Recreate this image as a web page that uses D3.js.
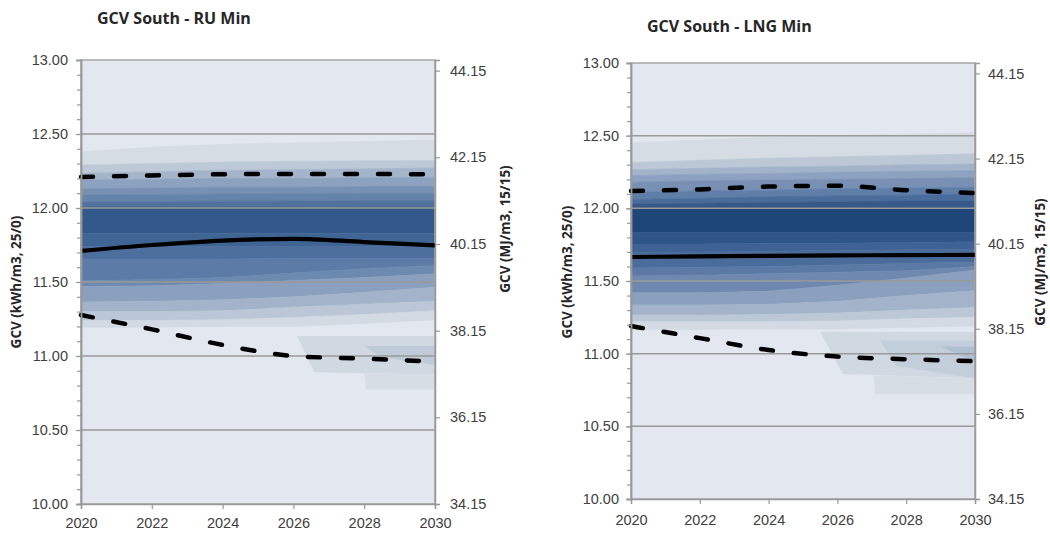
<!DOCTYPE html>
<html>
<head>
<meta charset="utf-8">
<script src="https://cdn.jsdelivr.net/npm/d3@7"></script>
<style>
  body { margin: 0; background: #fff; }
  svg { font-family: "Open Sans", sans-serif; }
  .tick text { fill: #404040; font-size: 14.5px; }
  .title { font-weight: bold; font-size: 16px; fill: #262626; }
  .ytitle { font-weight: bold; font-size: 13.5px; fill: #262626; }
</style>
</head>
<body>
<svg id="chart" width="1050" height="536"></svg>
<script>
// ---- data ----
const years = [2020, 2022, 2024, 2026, 2028, 2030];
const xTicks = [2020, 2022, 2024, 2026, 2028, 2030];
const leftTicks = [10.0, 10.5, 11.0, 11.5, 12.0, 12.5, 13.0];
const rightTicks = [34.15, 36.15, 38.15, 40.15, 42.15, 44.15];
const gridValues = [10.5, 11.0, 11.5, 12.0, 12.5];
const panelTitles = ["GCV South - RU Min", "GCV South - LNG Min"];
const leftTitle = "GCV (kWh/m3, 25/0)";
const rightTitle = "GCV (MJ/m3, 15/15)";
const mjFactor = 3.415; // kWh/m3 25/0 -> MJ/m3 15/15

// fan boundaries, top to bottom, one value per year
const ruBands = [
  [12.38, 12.41, 12.43, 12.44, 12.45, 12.46],
  [12.29, 12.30, 12.31, 12.315, 12.32, 12.32],
  [12.235, 12.245, 12.255, 12.26, 12.265, 12.27],
  [12.19, 12.195, 12.20, 12.20, 12.205, 12.205],
  [12.13, 12.135, 12.14, 12.14, 12.145, 12.145],
  [12.09, 12.092, 12.095, 12.097, 12.10, 12.10],
  [12.04, 12.042, 12.045, 12.047, 12.05, 12.05],
  [12.005, 12.005, 12.005, 12.005, 12.005, 12.005],
  [11.83, 11.83, 11.83, 11.83, 11.83, 11.83],
  [11.74, 11.74, 11.74, 11.74, 11.74, 11.74],
  [11.65, 11.65, 11.655, 11.66, 11.66, 11.66],
  [11.51, 11.515, 11.53, 11.56, 11.59, 11.61],
  [11.47, 11.475, 11.49, 11.51, 11.53, 11.555],
  [11.365, 11.37, 11.38, 11.40, 11.43, 11.465],
  [11.30, 11.30, 11.305, 11.33, 11.35, 11.37],
  [11.24, 11.24, 11.245, 11.26, 11.28, 11.305],
  [11.195, 11.195, 11.20, 11.20, 11.22, 11.245]
];
const ruMedian = [11.71, 11.75, 11.78, 11.792, 11.77, 11.748];
const ruMax = [12.21, 12.22, 12.228, 12.23, 12.23, 12.227];
const ruMin = [11.277, 11.18, 11.075, 11.0, 10.982, 10.962];
const ruTails = [
  { years: [2026.1, 2026.6, 2030], hi: [11.135, 11.135, 11.135], lo: [11.135, 10.89, 10.875] },
  { years: [2028.0, 2028.05, 2030], hi: [10.88, 10.88, 10.875], lo: [10.88, 10.775, 10.775] },
  { years: [2028.0, 2028.5, 2030], hi: [11.068, 11.068, 11.068], lo: [11.068, 10.99, 10.94] }
];

const lngBands = [
  [12.45, 12.47, 12.49, 12.50, 12.51, 12.52],
  [12.315, 12.33, 12.345, 12.355, 12.365, 12.375],
  [12.265, 12.275, 12.285, 12.29, 12.30, 12.305],
  [12.225, 12.235, 12.24, 12.25, 12.255, 12.26],
  [12.18, 12.19, 12.195, 12.20, 12.205, 12.21],
  [12.11, 12.12, 12.125, 12.135, 12.14, 12.145],
  [12.06, 12.07, 12.08, 12.085, 12.09, 12.10],
  [12.03, 12.035, 12.04, 12.045, 12.05, 12.05],
  [12.002, 12.002, 12.002, 12.002, 12.002, 12.002],
  [11.835, 11.835, 11.835, 11.835, 11.835, 11.835],
  [11.755, 11.755, 11.76, 11.76, 11.765, 11.77],
  [11.70, 11.70, 11.705, 11.71, 11.715, 11.72],
  [11.59, 11.595, 11.60, 11.61, 11.62, 11.63],
  [11.535, 11.54, 11.55, 11.56, 11.57, 11.60],
  [11.42, 11.42, 11.43, 11.47, 11.52, 11.575],
  [11.335, 11.335, 11.34, 11.36, 11.40, 11.434],
  [11.265, 11.265, 11.27, 11.28, 11.30, 11.317],
  [11.22, 11.22, 11.22, 11.225, 11.24, 11.25],
  [11.167, 11.167, 11.17, 11.17, 11.18, 11.19]
];
const lngMedian = [11.665, 11.67, 11.673, 11.676, 11.678, 11.68];
const lngMax = [12.12, 12.13, 12.15, 12.155, 12.125, 12.105];
const lngMin = [11.19, 11.107, 11.025, 10.98, 10.962, 10.948];
const lngTails = [
  { years: [2025.5, 2026.16, 2030], hi: [11.15, 11.15, 11.15], lo: [11.15, 10.86, 10.83] },
  { years: [2027.05, 2027.1, 2030], hi: [10.85, 10.85, 10.83], lo: [10.85, 10.72, 10.72] },
  { years: [2027.24, 2027.7, 2030], hi: [11.09, 11.09, 11.09], lo: [11.09, 10.915, 10.83] },
  { years: [2029.0, 2030], hi: [11.05, 11.05], lo: [11.05, 10.945] }
];

// ---- styles ----
const ruColors = ["#D5DCE4", "#BDC9D7", "#A4B5CB", "#8CA2C0", "#7791B4", "#6483AA", "#52729E",
  "#33598A", "#3F6595", "#4D6F9D", "#5C7BA6", "#6C89B0", "#8AA0BE", "#A3B4CA", "#BBC7D6", "#D3DAE3"];
const lngColors = ["#D5DCE4", "#BCC8D6", "#A3B4CA", "#8CA2C0", "#7790B4", "#5F7EA8", "#4A6C9B", "#36598A",
  "#1F4678", "#2E5586", "#3D6293", "#4A6C9B", "#5A7AA5", "#6E88B0", "#8AA0BE", "#A3B4CA", "#BCC8D6", "#D3DAE3"];
const ruTailColors = ["#D0D8E1", "#D6DDE5", "#BFCBD8"];
const lngTailColors = ["#D0D8E1", "#D6DDE5", "#C3CEDB", "#B0C0D3"];

const panels = [
  { title: panelTitles[0], bands: ruBands, colors: ruColors, median: ruMedian, max: ruMax, min: ruMin,
    tails: ruTails, tailColors: ruTailColors,
    left: 81, right: 435, top: 60, bottom: 504,
    titleX: 97, titleY: 24, lTitle: [16, 282], rTitle: [505, 229],
    xPad: 9, lPad: 8, rPad: 10 },
  { title: panelTitles[1], bands: lngBands, colors: lngColors, median: lngMedian, max: lngMax, min: lngMin,
    tails: lngTails, tailColors: lngTailColors,
    left: 631, right: 975, top: 63, bottom: 499,
    titleX: 647, titleY: 32, lTitle: [567, 272], rTitle: [1040, 262],
    xPad: 11, lPad: 7, rPad: 8 }
];

const svg = d3.select("#chart");

function drawPanel(p) {
  const x = d3.scaleLinear().domain([2020, 2030]).range([p.left, p.right]);
  const y = d3.scaleLinear().domain([10, 13]).range([p.bottom, p.top]);
  const y2 = d3.scaleLinear().domain([10 * mjFactor, 13 * mjFactor]).range([p.bottom, p.top]);
  const g = svg.append("g");

  g.append("rect")
    .attr("x", p.left).attr("y", p.top)
    .attr("width", p.right - p.left).attr("height", p.bottom - p.top)
    .attr("fill", "#E3E7EF");

  const area = d3.area()
    .x(d => x(d.year)).y0(d => y(d.lo)).y1(d => y(d.hi));

  // fan bands
  for (let i = 0; i < p.bands.length - 1; i++) {
    const pts = years.map((yr, j) => ({ year: yr, hi: p.bands[i][j], lo: p.bands[i + 1][j] }));
    g.append("path").datum(pts)
      .attr("d", area)
      .attr("fill", p.colors[i])
      .attr("stroke", p.colors[i]).attr("stroke-width", 0.6);
  }

  // low-end tails
  p.tails.forEach((t, i) => {
    const pts = t.years.map((yr, j) => ({ year: yr, hi: t.hi[j], lo: t.lo[j] }));
    g.append("path").datum(pts)
      .attr("d", area)
      .attr("fill", p.tailColors[i]);
  });

  // gridlines
  g.selectAll(".grid").data(gridValues).join("line")
    .attr("x1", p.left).attr("x2", p.right)
    .attr("y1", d => y(d)).attr("y2", d => y(d))
    .attr("stroke", "#9A9A9A").attr("stroke-width", 1.5);

  // plot border
  g.append("rect")
    .attr("x", p.left).attr("y", p.top)
    .attr("width", p.right - p.left).attr("height", p.bottom - p.top)
    .attr("fill", "none").attr("stroke", "#A6A6A6").attr("stroke-width", 1.5);

  // lines
  const line = d3.line().x((d, j) => x(years[j])).y(d => y(d)).curve(d3.curveMonotoneX);
  g.append("path").datum(p.median).attr("d", line)
    .attr("fill", "none").attr("stroke", "#000").attr("stroke-width", 4.2);
  [p.max, p.min].forEach(s => {
    g.append("path").datum(s).attr("d", line)
      .attr("fill", "none").attr("stroke", "#000").attr("stroke-width", 4.5)
      .attr("stroke-linecap", "round").attr("stroke-dasharray", "12 21");
  });

  // axes
  const styleAxis = a => {
    a.select(".domain").attr("stroke", "#999").attr("stroke-width", 1.5);
    a.selectAll(".tick line").attr("stroke", "#999").attr("stroke-width", 1.2);
  };

  g.append("g").attr("transform", `translate(${p.left},0)`)
    .call(d3.axisLeft(y).tickValues(d3.range(10, 13.01, 0.1)).tickSize(4).tickFormat(""))
    .call(styleAxis);
  g.append("g").attr("transform", `translate(${p.left},0)`)
    .call(d3.axisLeft(y).tickValues(leftTicks).tickSize(5).tickPadding(p.lPad).tickFormat(d3.format(".2f")))
    .call(styleAxis);
  g.append("g").attr("transform", `translate(${p.right},0)`)
    .call(d3.axisRight(y2).tickValues(rightTicks).tickSize(5).tickPadding(p.rPad).tickFormat(d3.format(".2f")))
    .call(styleAxis);
  g.append("g").attr("transform", `translate(0,${p.bottom})`)
    .call(d3.axisBottom(x).tickValues(xTicks).tickSize(5).tickPadding(p.xPad).tickFormat(d3.format("d")))
    .call(styleAxis);

  // titles
  g.append("text").attr("class", "title")
    .attr("x", p.titleX).attr("y", p.titleY).text(p.title);
  g.append("text").attr("class", "ytitle")
    .attr("transform", `translate(${p.lTitle[0]},${p.lTitle[1]}) rotate(-90)`)
    .attr("text-anchor", "middle").attr("dy", "0.35em").text(leftTitle);
  g.append("text").attr("class", "ytitle")
    .attr("transform", `translate(${p.rTitle[0]},${p.rTitle[1]}) rotate(-90)`)
    .attr("text-anchor", "middle").attr("dy", "0.35em").text(rightTitle);
}

panels.forEach(drawPanel);
</script>
</body>
</html>
